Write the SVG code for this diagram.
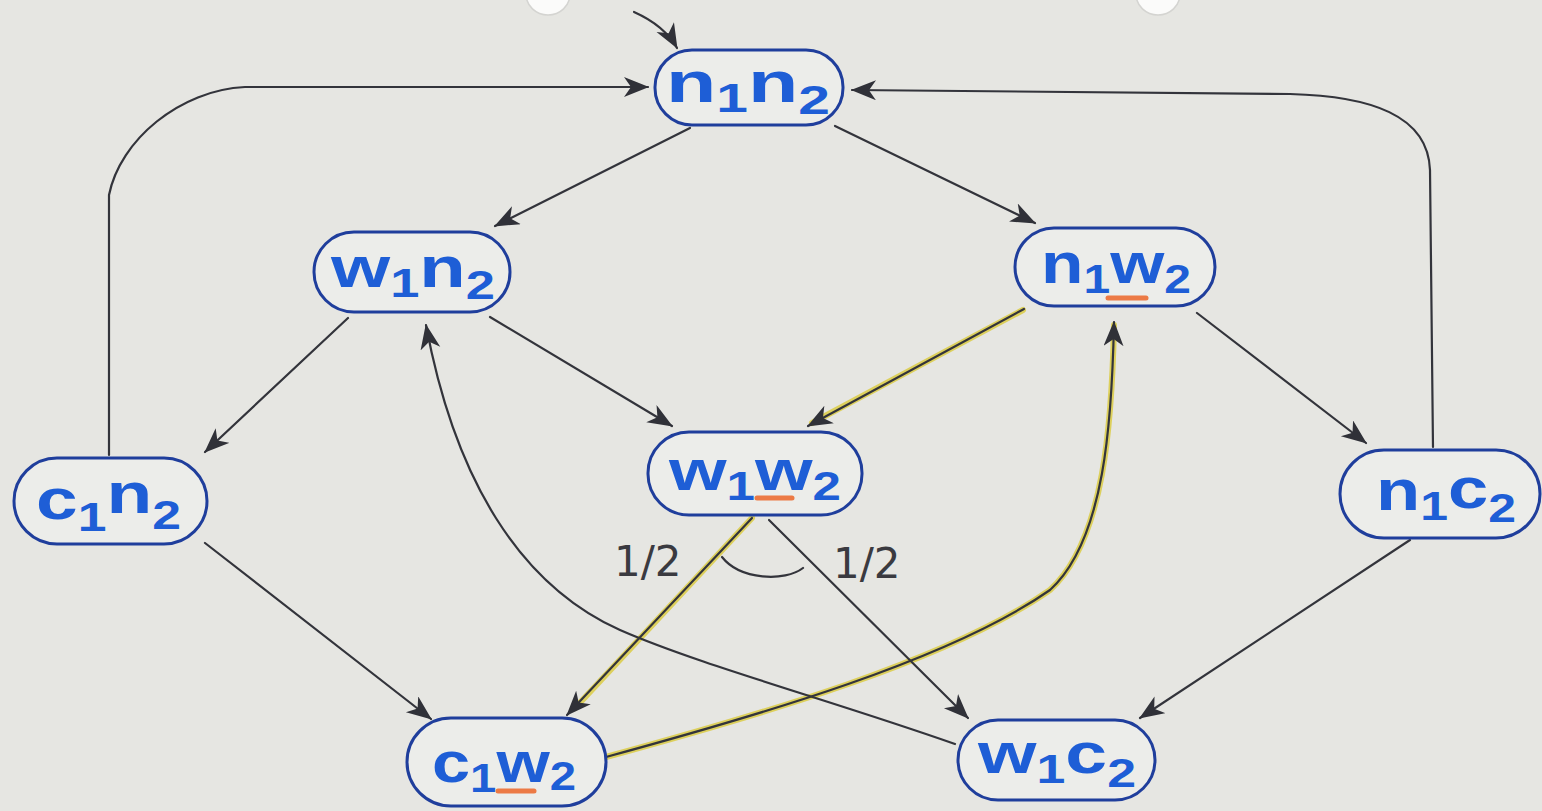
<svg xmlns="http://www.w3.org/2000/svg" width="1542" height="811" viewBox="0 0 1542 811">
  <defs>
    <marker id="arrow" markerUnits="userSpaceOnUse" markerWidth="28" markerHeight="22" refX="24" refY="10" orient="auto">
      <path d="M0,0 L25,10 L0,20 L7,10 z" fill="#303138"/>
    </marker>
    <style>
      .bg { fill: #e6e6e2; }
      .node rect { fill: #ecedea; stroke: #1f3e9c; stroke-width: 3; }
      .lbl { font-family: "Liberation Sans", "DejaVu Sans", sans-serif; font-weight: 700; fill: #1e5ed6; font-size: 58px; }
      .sub { font-size: 40px; }
      .ul { stroke: #ec7a45; stroke-width: 5; stroke-linecap: round; }
      .edge { fill: none; stroke: #33343b; stroke-width: 2.2; stroke-linecap: round; }
      .hl { fill: none; stroke: #dccd4e; stroke-width: 6; stroke-linecap: round; opacity: 0.9; }
      .frac { font-family: "DejaVu Sans", "Liberation Sans", sans-serif; font-size: 42px; fill: #3a3a40; }
    </style>
  </defs>

  <rect class="bg" x="0" y="0" width="1542" height="811"/>

  <!-- punched holes along the top edge -->
  <ellipse cx="548" cy="-6" rx="22" ry="21" fill="#fbfbfa" stroke="#d4d4d1" stroke-width="1.5"/>
  <ellipse cx="1158" cy="-6" rx="22" ry="21" fill="#fbfbfa" stroke="#d4d4d1" stroke-width="1.5"/>

  <g id="connectors">
    <!-- highlighted transitions -->
    <path class="hl" d="M1023,310 L812,423"/>
    <path class="hl" d="M752,518 L575,708"/>
    <path class="hl" d="M606,757 C760,715 950,660 1050,590 C1105,540 1112,420 1114,325"/>

    <!-- initial arrow -->
    <path class="edge" d="M634,12 C652,20 668,32 677,48" marker-end="url(#arrow)"/>
    <!-- loops back to n1n2 -->
    <path class="edge" d="M109,455 L109,195 C120,140 180,90 245,87 L648,87" marker-end="url(#arrow)"/>
    <path class="edge" d="M1433,447 L1430,170 C1428,115 1370,96 1290,94 L852,90" marker-end="url(#arrow)"/>
    <!-- from n1n2 -->
    <path class="edge" d="M690,128 L495,226" marker-end="url(#arrow)"/>
    <path class="edge" d="M835,126 L1035,223" marker-end="url(#arrow)"/>
    <!-- from w1n2 -->
    <path class="edge" d="M348,318 L205,452" marker-end="url(#arrow)"/>
    <path class="edge" d="M490,317 L672,426" marker-end="url(#arrow)"/>
    <!-- from n1w2 -->
    <path class="edge" d="M1024,309 L808,426" marker-end="url(#arrow)"/>
    <path class="edge" d="M1197,313 L1366,443" marker-end="url(#arrow)"/>
    <!-- from c1n2 / n1c2 -->
    <path class="edge" d="M205,543 L431,719" marker-end="url(#arrow)"/>
    <path class="edge" d="M1410,540 L1140,718" marker-end="url(#arrow)"/>
    <!-- probabilistic branch out of w1w2 -->
    <path class="edge" d="M752,518 L567,715" marker-end="url(#arrow)"/>
    <path class="edge" d="M769,520 L968,718" marker-end="url(#arrow)"/>
    <path class="edge" d="M722,557 C740,580 785,582 803,568"/>
    <!-- curved returns -->
    <path class="edge" d="M955,744 C830,700 700,665 620,630 C520,585 455,480 426,325" marker-end="url(#arrow)"/>
    <path class="edge" d="M606,757 C760,715 950,660 1050,590 C1105,540 1112,420 1114,322" marker-end="url(#arrow)"/>
  </g>

  <text class="frac" x="614" y="576">1/2</text>
  <text class="frac" x="833" y="578">1/2</text>

  <g id="n1n2" class="node">
    <rect x="655" y="50" width="188" height="75" rx="37"/>
    <text class="lbl" x="666" y="102" textLength="164" lengthAdjust="spacingAndGlyphs">n<tspan class="sub" dy="10">1</tspan><tspan dy="-10">n</tspan><tspan class="sub" dy="12">2</tspan></text>
  </g>

  <g id="w1n2" class="node">
    <rect x="314" y="232" width="196" height="80" rx="40"/>
    <text class="lbl" x="331" y="287" textLength="164" lengthAdjust="spacingAndGlyphs">w<tspan class="sub" dy="10">1</tspan><tspan dy="-10">n</tspan><tspan class="sub" dy="12">2</tspan></text>
  </g>

  <g id="n1w2" class="node">
    <rect x="1015" y="228" width="200" height="78" rx="39"/>
    <text class="lbl" x="1041" y="283" textLength="150" lengthAdjust="spacingAndGlyphs">n<tspan class="sub" dy="10">1</tspan><tspan dy="-10">w</tspan><tspan class="sub" dy="10">2</tspan></text>
    <line class="ul" x1="1108" y1="298" x2="1146" y2="298"/>
  </g>

  <g id="w1w2" class="node">
    <rect x="648" y="432" width="214" height="83" rx="41"/>
    <text class="lbl" x="669" y="490" textLength="172" lengthAdjust="spacingAndGlyphs">w<tspan class="sub" dy="10">1</tspan><tspan dy="-10">w</tspan><tspan class="sub" dy="10">2</tspan></text>
    <line class="ul" x1="757" y1="498" x2="792" y2="498"/>
  </g>

  <g id="c1n2" class="node">
    <rect x="14" y="458" width="193" height="86" rx="43"/>
    <text class="lbl" x="36" y="519" textLength="145" lengthAdjust="spacingAndGlyphs">c<tspan class="sub" dy="12">1</tspan><tspan dy="-18">n</tspan><tspan class="sub" dy="16">2</tspan></text>
  </g>

  <g id="n1c2" class="node">
    <rect x="1340" y="450" width="200" height="88" rx="44"/>
    <text class="lbl" x="1376" y="510" textLength="140" lengthAdjust="spacingAndGlyphs">n<tspan class="sub" dy="10">1</tspan><tspan dy="-12">c</tspan><tspan class="sub" dy="14">2</tspan></text>
  </g>

  <g id="c1w2" class="node">
    <rect x="407" y="718" width="199" height="88" rx="44"/>
    <text class="lbl" x="432" y="782" textLength="144" lengthAdjust="spacingAndGlyphs">c<tspan class="sub" dy="10">1</tspan><tspan dy="-10">w</tspan><tspan class="sub" dy="8">2</tspan></text>
    <line class="ul" x1="498" y1="791" x2="534" y2="791"/>
  </g>

  <g id="w1c2" class="node">
    <rect x="958" y="720" width="197" height="80" rx="40"/>
    <text class="lbl" x="978" y="773" textLength="158" lengthAdjust="spacingAndGlyphs">w<tspan class="sub" dy="10">1</tspan><tspan dy="-10">c</tspan><tspan class="sub" dy="14">2</tspan></text>
  </g>
</svg>
